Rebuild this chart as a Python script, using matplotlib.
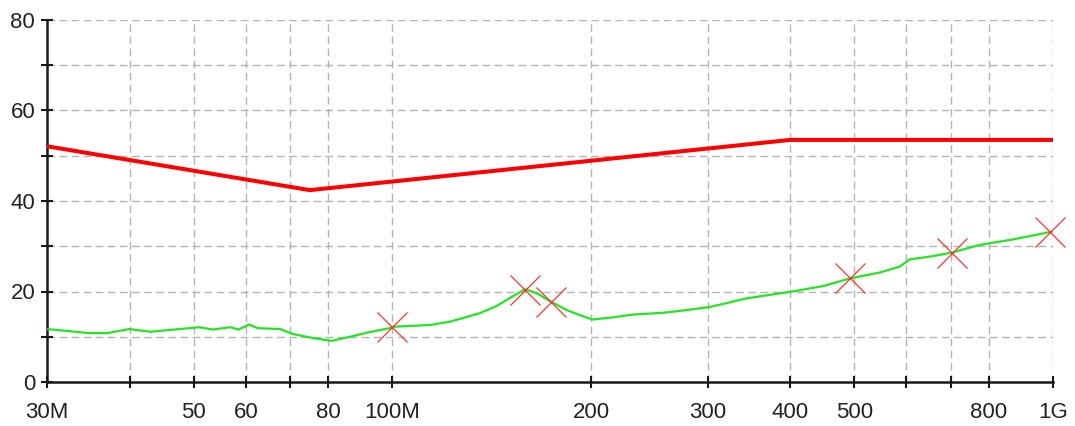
import matplotlib
matplotlib.use("Agg")
import matplotlib.pyplot as plt
from matplotlib.ticker import FixedLocator, FixedFormatter, NullLocator

# ---- data ----
limit_freq = [30, 75, 400, 1000]
limit_level = [52.1, 42.4, 53.5, 53.5]

trace_freq = [30, 34.8, 37, 40, 43, 46, 51, 53.5, 56.8, 58.5, 60.7, 62.5, 67.6,
              70.7, 75.9, 80.9, 86.3, 91.5, 99, 100, 114, 122, 135.6, 143.8, 152,
              158.8, 165.5, 174, 183.6, 192, 201, 216, 231, 257, 272, 303, 344,
              403, 449, 493, 547, 586, 607, 657, 703, 775, 869, 995]
trace_level = [11.7, 10.8, 10.8, 11.7, 11.1, 11.5, 12.1, 11.6, 12.1, 11.6, 12.7, 11.9, 11.7,
               10.6, 9.7, 9.1, 10.0, 10.9, 11.9, 12.2, 12.6, 13.3, 15.2, 16.8, 18.9,
               20.5, 19.6, 17.7, 15.9, 14.8, 13.8, 14.3, 14.9, 15.3, 15.7, 16.6, 18.5,
               20.0, 21.2, 22.9, 24.2, 25.5, 27.1, 27.8, 28.6, 30.3, 31.5, 33.2]

marker_freq = [100, 158.8, 174, 493, 703, 990]
marker_level = [12.2, 20.3, 17.7, 22.9, 28.6, 33.1]

x_ticks = [30, 40, 50, 60, 70, 80, 100, 200, 300, 400, 500, 600, 700, 800, 1000]
x_tick_labels = ["30M", "", "50", "60", "", "80", "100M", "200", "300", "400", "500", "", "", "800", "1G"]
y_major = [0, 20, 40, 60, 80]
y_minor = [10, 30, 50, 70]

# ---- figure ----
plt.rcParams['font.family'] = ['Liberation Sans', 'DejaVu Sans']
fig = plt.figure(figsize=(10.75, 4.26), dpi=100)
ax = fig.add_axes([47/1075, 1 - 382/426, (1053 - 47)/1075, (382 - 20)/426])

grid_kw = dict(color='#b4b4b4', linewidth=1.0, linestyle=(0, (5.5, 3.2)), zorder=1)
for f in x_ticks[1:]:
    ax.axvline(f, **grid_kw)
for y in y_major[1:] + y_minor:
    ax.axhline(y, **grid_kw)

ax.plot(limit_freq, limit_level, color='#ff0000', linewidth=2.9, zorder=3,
        solid_capstyle='butt')
ax.plot(trace_freq, trace_level, color='#22e622', linewidth=1.6, zorder=3)
ax.plot(marker_freq, marker_level, linestyle='none', marker='x', markersize=21,
        markeredgewidth=0.9, color='#ff3030', zorder=4, clip_on=False)

ax.set_xscale('log')
ax.set_xlim(30, 1000)
ax.set_ylim(0, 80)

ax.xaxis.set_major_locator(FixedLocator(x_ticks))
ax.xaxis.set_major_formatter(FixedFormatter(x_tick_labels))
ax.xaxis.set_minor_locator(NullLocator())
ax.set_yticks(y_major)
ax.set_yticks(y_minor, minor=True)

for s in ['top', 'right']:
    ax.spines[s].set_visible(False)
for s in ['left', 'bottom']:
    ax.spines[s].set_linewidth(1.8)
    ax.spines[s].set_color('#1a1a1a')

ax.tick_params(axis='both', which='both', direction='inout', length=9, width=1.5,
               color='#1a1a1a', labelsize=16, labelcolor='#222222')
ax.tick_params(axis='x', pad=10)
ax.tick_params(axis='y', pad=4)

fig.savefig('out.png', dpi=100, facecolor='white')
